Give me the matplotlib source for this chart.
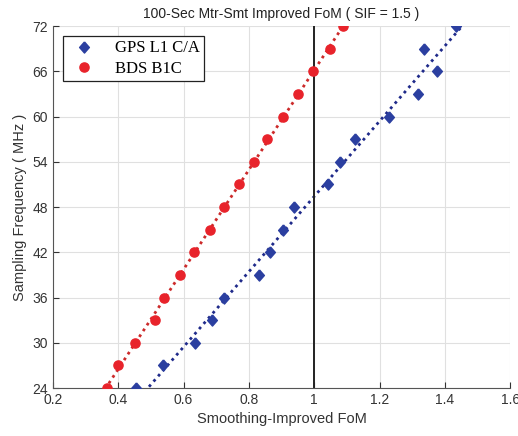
import numpy as np
import matplotlib
matplotlib.use('Agg')
import matplotlib.pyplot as plt
from matplotlib.ticker import FuncFormatter

# sampling frequency (MHz)
freq = [24, 27, 30, 33, 36, 39, 42, 45, 48, 51, 54, 57, 60, 63, 66, 69, 72]
# smoothing-improved FoM
gps_fom = [0.454, 0.537, 0.635, 0.687, 0.724, 0.831, 0.865, 0.905, 0.938,
           1.043, 1.079, 1.125, 1.229, 1.318, 1.377, 1.337, 1.435]
bds_fom = [0.365, 0.400, 0.451, 0.513, 0.540, 0.589, 0.632, 0.681, 0.724,
           0.770, 0.816, 0.856, 0.905, 0.951, 0.997, 1.049, 1.089]

plt.rcParams['font.family'] = ['Liberation Sans', 'DejaVu Sans']

fig = plt.figure(figsize=(5.18, 4.36), dpi=100)
ax = fig.add_axes([0.102, 0.110, 0.883, 0.830])

f = np.array(freq, dtype=float)
yy = np.linspace(20, 76, 100)
# linear trend lines
pg = np.polyfit(f, gps_fom, 1)
pb = np.polyfit(f, bds_fom, 1)
ax.plot(np.polyval(pg, yy), yy, linestyle=(0, (1, 1.5)), color='#1f2a8a', lw=2.0, zorder=2)
ax.plot(np.polyval(pb, yy), yy, linestyle=(0, (1, 1.5)), color='#cc2a2a', lw=2.0, zorder=2)

diamond = [(0, 1), (0.88, 0), (0, -1), (-0.88, 0), (0, 1)]
ax.plot(gps_fom, freq, marker=diamond, color='#2b3fa0', ms=8, ls='none', label='GPS L1 C/A', zorder=3)
ax.plot(bds_fom, freq, 'o', color='#e8232b', ms=6.6, ls='none', label='BDS B1C', zorder=3)

ax.axvline(1.0, color='#222222', lw=1.4, zorder=2)

ax.set_xlim(0.2, 1.6)
ax.set_ylim(24, 72)
ax.set_xticks(np.arange(0.2, 1.61, 0.2))
ax.set_yticks(np.arange(24, 73, 6))
ax.xaxis.set_major_formatter(FuncFormatter(lambda v, p: '%g' % round(v, 1)))
ax.grid(True, color='#e0e0e0', lw=0.8)
ax.set_axisbelow(True)
ax.tick_params(direction='in', length=4, labelsize=10, colors='#333333')
for s in ['top', 'right']:
    ax.spines[s].set_visible(False)
for s in ['left', 'bottom']:
    ax.spines[s].set_color('#555555')

ax.set_title('100-Sec Mtr-Smt Improved FoM ( SIF = 1.5 )', fontsize=10, color='#222222', pad=6)
ax.set_xlabel('Smoothing-Improved FoM', fontsize=10.5, color='#333333')
ax.set_ylabel('Sampling Frequency ( MHz )', fontsize=10.5, color='#333333')

leg = ax.legend(loc='upper left', bbox_to_anchor=(0.022, 0.972), fancybox=False,
                edgecolor='#222222', framealpha=1,
                prop={'family': 'Liberation Serif', 'size': 12},
                borderpad=0.25, labelspacing=0.25, handletextpad=0.9, borderaxespad=0)
leg.get_frame().set_linewidth(0.9)

fig.savefig('out.png', dpi=100)
